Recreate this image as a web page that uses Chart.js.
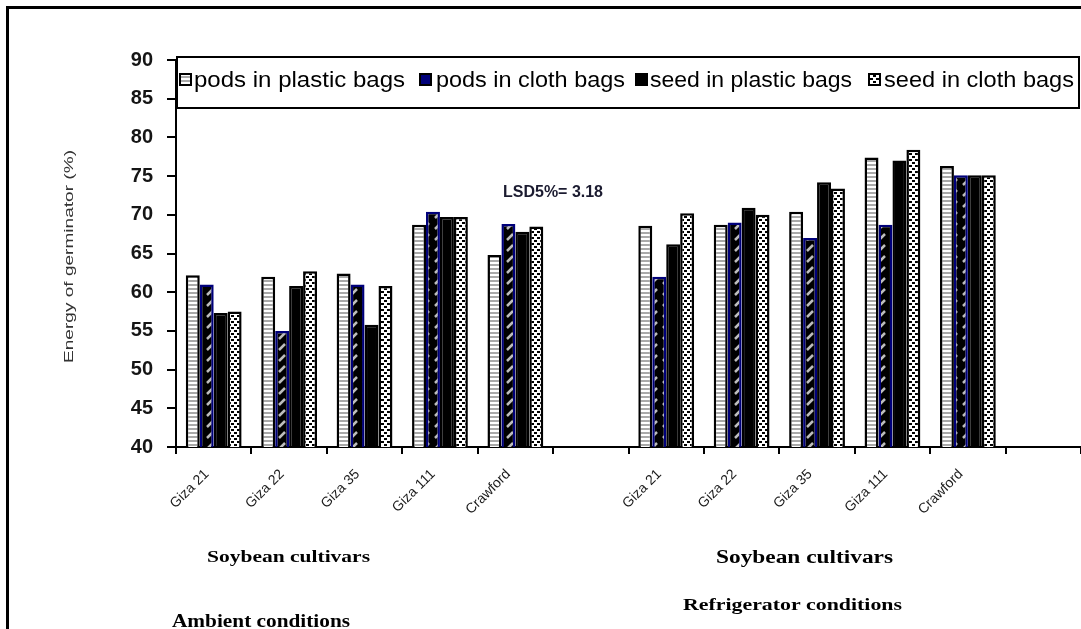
<!DOCTYPE html>
<html>
<head>
<meta charset="utf-8">
<script src="https://cdn.jsdelivr.net/npm/chart.js@4.4.0/dist/chart.umd.min.js"></script>
<style>
  html, body { margin: 0; padding: 0; background: #fff; }
  #wrap { width: 1081px; height: 629px; position: relative; }
</style>
</head>
<body>
<div id="wrap"><canvas id="germChart" width="1081" height="629"></canvas></div>
<script>
// cultivars, ambient group then refrigerator group, with an empty slot after each group
const categories = ['Giza 21', 'Giza 22', 'Giza 35', 'Giza 111', 'Crawford', '',
                    'Giza 21', 'Giza 22', 'Giza 35', 'Giza 111', 'Crawford', ''];
const seriesNames = ['pods in plastic bags', 'pods in cloth bags', 'seed in plastic bags', 'seed in cloth bags'];

const podsPlastic = [62.2, 62.0, 62.4, 68.7, 64.8, null, 68.6, 68.7, 70.4, 77.4, 76.3, null];
const podsCloth   = [61.0, 55.0, 61.0, 70.4, 68.8, null, 62.0, 69.0, 67.0, 68.7, 75.1, null];
const seedPlastic = [57.3, 60.8, 55.8, 69.7, 67.8, null, 66.2, 70.9, 74.2, 77.0, 75.1, null];
const seedCloth   = [57.5, 62.7, 60.8, 69.7, 68.5, null, 70.2, 70.0, 73.4, 78.4, 75.1, null];

const yMin = 40, yMax = 90, yStep = 5;
const lsdText = 'LSD5%= 3.18';
const axisTitle = 'Energy of germinator (%)';
const groupTitle = 'Soybean cultivars';
const conditionNames = ['Ambient conditions', 'Refrigerator conditions'];

function makePattern(w, h, draw) {
  const c = document.createElement('canvas');
  c.width = w; c.height = h;
  const g = c.getContext('2d');
  draw(g);
  return g.createPattern(c, 'repeat');
}

const stripes = makePattern(4, 4, g => {
  g.fillStyle = '#fff'; g.fillRect(0, 0, 4, 4);
  g.fillStyle = '#a9a9a9'; g.fillRect(0, 0, 4, 2);
});
const hatch = makePattern(12, 11, g => {
  g.fillStyle = '#000'; g.fillRect(0, 0, 12, 11);
  g.strokeStyle = '#bdbdbd'; g.lineWidth = 2.5;
  g.beginPath(); g.moveTo(3, 9); g.lineTo(9, 3); g.stroke();
});
const dots = makePattern(6, 6, g => {
  g.fillStyle = '#fff'; g.fillRect(0, 0, 6, 6);
  g.fillStyle = '#000';
  g.fillRect(0, 0, 3, 2); g.fillRect(3, 3, 3, 2);
});

const fills = [stripes, hatch, '#000', dots];
const borders = ['#000', '#00007a', '#000', '#000'];
const values = [podsPlastic, podsCloth, seedPlastic, seedCloth];

// draw text squeezed/stretched to a given width
function fitText(ctx, text, x, y, width) {
  const m = ctx.measureText(text).width;
  ctx.save();
  ctx.translate(x, y);
  ctx.scale(width / m, 1);
  ctx.fillText(text, 0, 0);
  ctx.restore();
}

const decorations = {
  id: 'decorations',
  afterDraw(chart) {
    const ctx = chart.ctx;
    ctx.save();

    // outer frame (top and left only, rest is cropped)
    ctx.fillStyle = '#000';
    ctx.fillRect(6, 6, 1075, 3);
    ctx.fillRect(6, 6, 3, 623);

    // legend box
    ctx.fillStyle = '#fff';
    ctx.fillRect(177, 57, 902, 51);
    ctx.strokeStyle = '#000';
    ctx.lineWidth = 2;
    ctx.strokeRect(177, 57, 902, 51);

    const items = [[180, 194, 211], [420, 436, 189], [636, 650, 202], [869, 884, 190]];
    ctx.font = '22px "Liberation Sans Narrow", "Liberation Sans", Arial, sans-serif';
    ctx.textBaseline = 'middle';
    ctx.textAlign = 'left';
    items.forEach((it, i) => {
      ctx.fillStyle = i === 1 ? '#00007a' : fills[i];
      ctx.fillRect(it[0], 74, 11, 11);
      ctx.lineWidth = 2;
      ctx.strokeStyle = '#000';
      ctx.strokeRect(it[0], 74, 11, 11);
      ctx.fillStyle = '#000';
      fitText(ctx, seriesNames[i], it[1], 81, it[2]);
    });

    // LSD
    ctx.font = 'bold 17px "Liberation Sans Narrow", "Liberation Sans", Arial, sans-serif';
    ctx.fillStyle = '#1b1b30';
    fitText(ctx, lsdText, 503, 192, 100);

    // y axis title
    ctx.save();
    ctx.translate(69, 257);
    ctx.rotate(-Math.PI / 2);
    ctx.font = '13px "Liberation Sans", Arial, sans-serif';
    ctx.fillStyle = '#333';
    ctx.textAlign = 'left';
    fitText(ctx, axisTitle, -106, 0, 213);
    ctx.restore();

    // group titles
    ctx.fillStyle = '#000';
    ctx.font = 'bold 17px "Liberation Serif", "Times New Roman", serif';
    fitText(ctx, groupTitle, 207, 558, 163);
    ctx.font = 'bold 18px "Liberation Serif", "Times New Roman", serif';
    fitText(ctx, groupTitle, 716, 558, 177);
    ctx.font = 'bold 17px "Liberation Serif", "Times New Roman", serif';
    fitText(ctx, conditionNames[1], 683, 606, 219);
    ctx.font = 'bold 18px "Liberation Serif", "Times New Roman", serif';
    fitText(ctx, conditionNames[0], 172, 622, 178);

    ctx.restore();
  }
};

new Chart(document.getElementById('germChart'), {
  type: 'bar',
  data: {
    labels: categories,
    datasets: seriesNames.map((name, i) => ({
      label: name,
      data: values[i],
      backgroundColor: fills[i],
      borderColor: borders[i],
      borderWidth: { top: 2.5, left: 2.5, right: 2.5, bottom: 0 },
      borderSkipped: 'start',
      categoryPercentage: 0.74,
      barPercentage: 1.0
    }))
  },
  options: {
    responsive: false,
    animation: false,
    layout: { padding: { top: 60, left: 0, right: 0, bottom: 0 } },
    plugins: {
      legend: { display: false },
      tooltip: { enabled: false }
    },
    scales: {
      y: {
        min: yMin,
        max: yMax,
        ticks: {
          stepSize: yStep,
          padding: 14,
          color: '#151515',
          font: { family: '"Liberation Sans", Arial, sans-serif', size: 20, weight: 'bold' }
        },
        grid: { drawOnChartArea: false, tickLength: 9, color: '#000', lineWidth: 2 },
        border: { color: '#000', width: 2 },
        afterFit(scale) { scale.width = 176; }
      },
      x: {
        ticks: {
          autoSkip: false,
          minRotation: 45,
          maxRotation: 45,
          padding: 12,
          labelOffset: -7,
          color: '#1a1a1a',
          font: { family: '"Liberation Sans", Arial, sans-serif', size: 14 }
        },
        grid: { drawOnChartArea: false, offset: true, tickLength: 7, color: '#000', lineWidth: 2 },
        border: { color: '#000', width: 2 },
        afterFit(scale) { scale.height = 182; }
      }
    }
  },
  plugins: [decorations]
});
</script>
</body>
</html>
